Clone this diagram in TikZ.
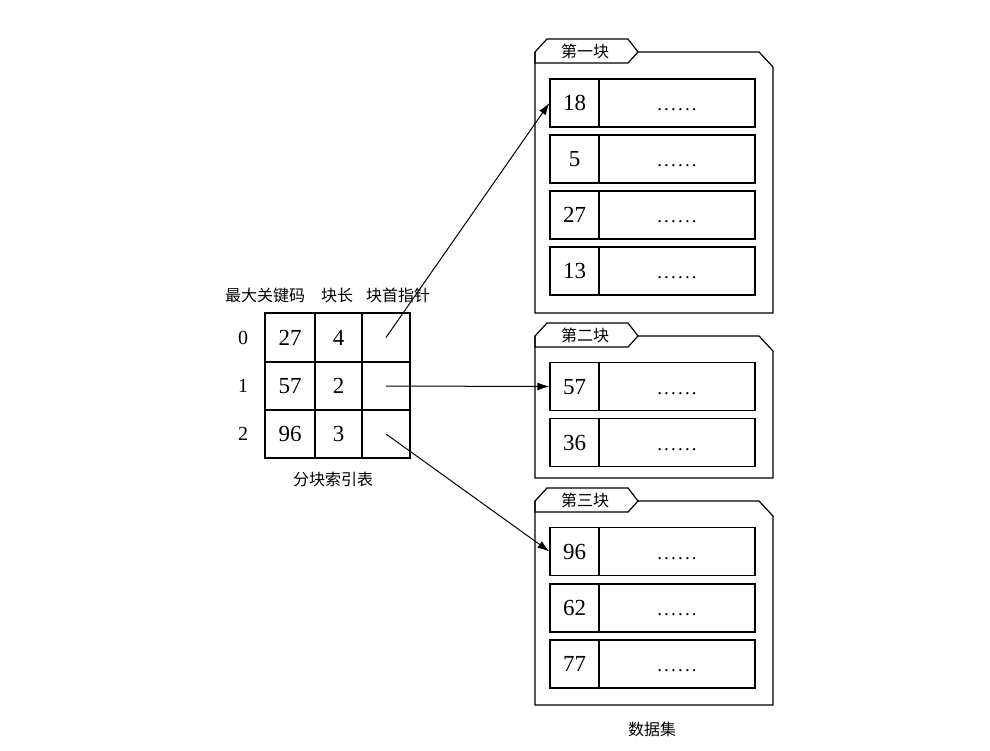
\documentclass[tikz,border=0pt]{standalone}
\usepackage{fontspec}
\setmainfont{Liberation Serif}
\newfontfamily\cjk{Noto Sans CJK SC}
\usetikzlibrary{arrows.meta}
\newcommand\mydotrow{.\kern2.2pt.\kern2.2pt.\kern2.2pt.\kern2.2pt.\kern2.2pt.}
\begin{document}
\begin{tikzpicture}[x=1pt,y=-1pt,
  line width=1.2pt,
  cell/.style={draw,rectangle,inner sep=0pt,text height=15.5pt,text depth=0pt,font=\fontsize{23}{23}\selectfont},
  keycell/.style={cell,minimum width=49pt,minimum height=48pt},
  datacell/.style={cell,minimum width=156pt,minimum height=48pt},
  lbl/.style={inner sep=0pt,font=\cjk\fontsize{16}{16}\selectfont},
  rowlbl/.style={inner sep=0pt,font=\fontsize{20}{20}\selectfont},
  arr/.style={line width=1pt,-{Latex[length=12pt,width=8pt]}},
  blk/.style={line width=1.2pt,line join=miter}]
\useasboundingbox (0,0) rectangle (990,750);
% index table
\foreach \r/\y/\h/\k/\l in {0/337.5/49/27/4, 1/386/48/57/2, 2/434/48/96/3}{
  \node[cell,minimum width=50pt,minimum height=\h pt] (ik\r) at (290,\y) {\k};
  \node[cell,minimum width=47pt,minimum height=\h pt] (il\r) at (338.5,\y) {\l};
  \node[cell,minimum width=48pt,minimum height=\h pt] (ip\r) at (386,\y) {};
  \node[rowlbl] (rl\r) at (243,\y) {\r};
}
\node[lbl] (h1) at (265,295) {最大关键码};
\node[lbl] (h2) at (337,295) {块长};
\node[lbl] (h3) at (398,295) {块首指针};
\node[lbl] (cap1) at (333,479) {分块索引表};
% blocks
\foreach \T/\B/\name in {39/313/第一块, 323/478/第二块, 488/705/第三块}{
  \draw[blk] (535,\T+24) -- (535,\T+13) -- (547,\T) -- (628,\T) -- (638,\T+13) -- (628,\T+24) -- cycle;
  \draw[blk] (535,\T+13) -- (535,\B) -- (773,\B) -- (773,\T+28) -- (759,\T+13) -- (638,\T+13);
  \node[lbl] at (585,\T+12) {\name};
}
% records
\foreach \k/\y in {18/103, 5/159, 27/215, 13/271, 57/386.5, 36/442.5, 96/551.5, 62/608, 77/664}{
  \node[keycell] (r\k) at (574.5,\y) {\k};
  \node[datacell] (d\k) at (677,\y) {\fontsize{19}{19}\selectfont\mydotrow};
}
\node[lbl] (cap2) at (652,729) {数据集};
% arrows
\draw[arr] (ip0.center) -- (r18.west);
\draw[arr] (ip1.center) -- (r57.west);
\draw[arr] (ip2.center) -- (r96.west);
\end{tikzpicture}
\end{document}
